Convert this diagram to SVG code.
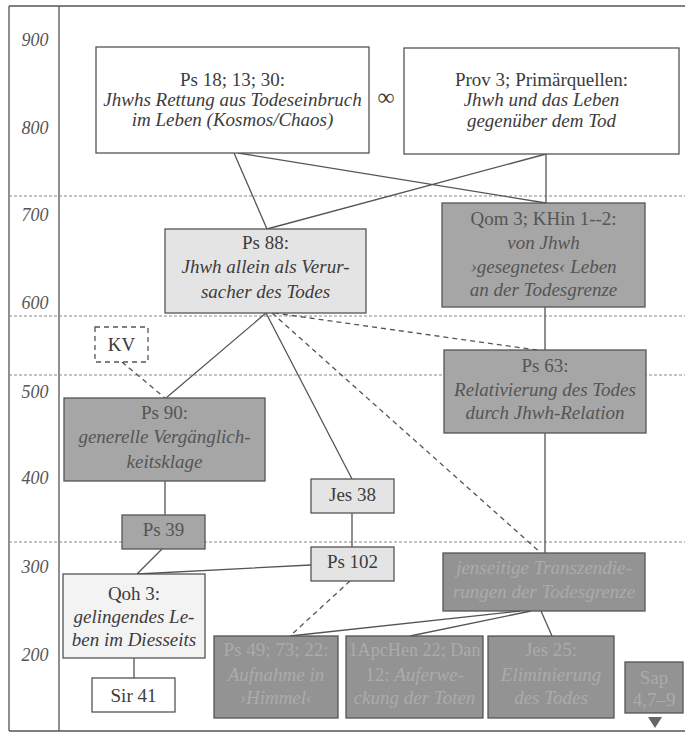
<svg xmlns="http://www.w3.org/2000/svg" width="685" height="733" viewBox="0 0 685 733">
<style>
text{font-family:"Liberation Serif","Times New Roman",serif;font-size:19px;text-anchor:middle;fill:#3c3c3c}
.i{font-style:italic}
.ax{font-style:italic;font-size:18px;fill:#555}
.frame{stroke:#555;stroke-width:1.3;fill:none}
.grid{stroke:#888;stroke-width:1;stroke-dasharray:3 2;fill:none}
.c{stroke:#555;stroke-width:1.3;fill:none}
.d{stroke:#555;stroke-width:1.3;fill:none;stroke-dasharray:5 4}
.w rect{fill:#fff;stroke:#555;stroke-width:1.3}
.l rect{fill:#e4e4e4;stroke:#555;stroke-width:1.3}
.q rect{fill:#f3f3f3;stroke:#555;stroke-width:1.3}
.m rect{fill:#a6a6a6;stroke:#555;stroke-width:1.3}
.m text{fill:#555}
.k rect{fill:#939393;stroke:#555;stroke-width:1.3}
.k text{fill:#ababab}
</style>
<rect width="685" height="733" fill="#fff"/>
<g id="frame">
<path class="frame" d="M9 6H685M9 6V731M9 731H685M59 6V731"/>
<path class="grid" d="M9 196H685M9 316H685M9 375H685M9 542H685"/>
<text class="ax" x="35" y="46">900</text>
<text class="ax" x="35" y="134">800</text>
<text class="ax" x="35" y="221">700</text>
<text class="ax" x="35" y="309">600</text>
<text class="ax" x="35" y="398">500</text>
<text class="ax" x="35" y="484">400</text>
<text class="ax" x="35" y="573">300</text>
<text class="ax" x="35" y="661">200</text>
</g>
<g id="connectors">
<path class="c" d="M234 153L267 229M238 153L546 203M546 154L267 229M546 154V203"/>
<path class="c" d="M266 313L166 398M266 313L352 479"/>
<path class="d" d="M272 313L541 553M274 313L537 350M122 362L165 398"/>
<path class="c" d="M545 307V350M545 433V553"/>
<path class="c" d="M165 481V515M352 513V547M162 549L137 574M311 565L137 574M134 658V678"/>
<path class="d" d="M350 581L290 636"/>
<path class="c" d="M520 611L290 636M531 611L410 636M541 611L552 636"/>
</g>
<g id="n_ps18" class="w">
<rect x="96" y="47" width="273" height="106"/>
<text x="232.5" y="86">Ps 18; 13; 30:</text>
<text class="i" x="232.5" y="106">Jhwhs Rettung aus Todeseinbruch</text>
<text class="i" x="232.5" y="126">im Leben (Kosmos/Chaos)</text>
</g>
<g id="n_inf">
<text x="386" y="105" style="font-size:24px">∞</text>
</g>
<g id="n_prov3" class="w">
<rect x="404" y="48" width="275" height="106"/>
<text x="541.5" y="86">Prov 3; Primärquellen:</text>
<text class="i" x="541.5" y="106">Jhwh und das Leben</text>
<text class="i" x="541.5" y="127">gegenüber dem Tod</text>
</g>
<g id="n_qom3" class="m">
<rect x="442" y="203" width="203" height="104"/>
<text x="543.5" y="225">Qom 3; KHin 1--2:</text>
<text class="i" x="543.5" y="249">von Jhwh</text>
<text class="i" x="543.5" y="273">›gesegnetes‹ Leben</text>
<text class="i" x="543.5" y="296">an der Todesgrenze</text>
</g>
<g id="n_ps88" class="l">
<rect x="165" y="229" width="201" height="84"/>
<text x="265.5" y="249">Ps 88:</text>
<text class="i" x="265.5" y="273">Jhwh allein als Verur-</text>
<text class="i" x="265.5" y="298">sacher des Todes</text>
</g>
<g id="n_kv">
<rect x="95" y="327" width="53" height="35" fill="#fff" stroke="#555" stroke-width="1.3" stroke-dasharray="5 4"/>
<text x="121.5" y="351">KV</text>
</g>
<g id="n_ps63" class="m">
<rect x="444" y="350" width="202" height="83"/>
<text x="545" y="372">Ps 63:</text>
<text class="i" x="545" y="396">Relativierung des Todes</text>
<text class="i" x="545" y="419">durch Jhwh-Relation</text>
</g>
<g id="n_ps90" class="m">
<rect x="64" y="398" width="201" height="83"/>
<text x="164.5" y="419">Ps 90:</text>
<text class="i" x="164.5" y="443">generelle Vergänglich-</text>
<text class="i" x="164.5" y="468">keitsklage</text>
</g>
<g id="n_ps39" class="m">
<rect x="122" y="515" width="83" height="34"/>
<text x="163.5" y="536">Ps 39</text>
</g>
<g id="n_jes38" class="l">
<rect x="311" y="479" width="83" height="34"/>
<text x="352.5" y="501">Jes 38</text>
</g>
<g id="n_ps102" class="l">
<rect x="311" y="547" width="83" height="34"/>
<text x="352.5" y="568">Ps 102</text>
</g>
<g id="n_qoh3" class="q">
<rect x="63" y="574" width="142" height="84"/>
<text x="134" y="600">Qoh 3:</text>
<text class="i" x="134" y="623">gelingendes Le-</text>
<text class="i" x="134" y="646">ben im Diesseits</text>
</g>
<g id="n_sir41" class="w">
<rect x="92" y="678" width="83" height="34"/>
<text x="133.5" y="702">Sir 41</text>
</g>
<g id="n_jenseitig" class="k">
<rect x="443" y="553" width="202" height="58"/>
<text class="i" x="544" y="574">jenseitige Transzendie-</text>
<text class="i" x="544" y="598">rungen der Todesgrenze</text>
</g>
<g id="n_ps49" class="k">
<rect x="214" y="636" width="124" height="82"/>
<text x="276" y="656">Ps 49; 73; 22:</text>
<text class="i" x="276" y="681">Aufnahme in</text>
<text class="i" x="276" y="704">›Himmel‹</text>
</g>
<g id="n_apchen" class="k">
<rect x="346" y="636" width="137" height="82"/>
<text x="414.5" y="656" textLength="132" lengthAdjust="spacingAndGlyphs">1ApcHen 22; Dan</text>
<text x="414.5" y="681">12: <tspan class="i">Auferwe-</tspan></text>
<text class="i" x="414.5" y="704">ckung der Toten</text>
</g>
<g id="n_jes25" class="k">
<rect x="488" y="636" width="126" height="82"/>
<text x="551" y="656">Jes 25:</text>
<text class="i" x="551" y="681">Eliminierung</text>
<text class="i" x="551" y="704">des Todes</text>
</g>
<g id="n_sap" class="k">
<rect x="625" y="662" width="58" height="51"/>
<text x="654" y="684">Sap</text>
<text x="654" y="706">4,7–9</text>
<path d="M648 717H662L655 728Z" fill="#666" stroke="none"/>
</g>
</svg>
